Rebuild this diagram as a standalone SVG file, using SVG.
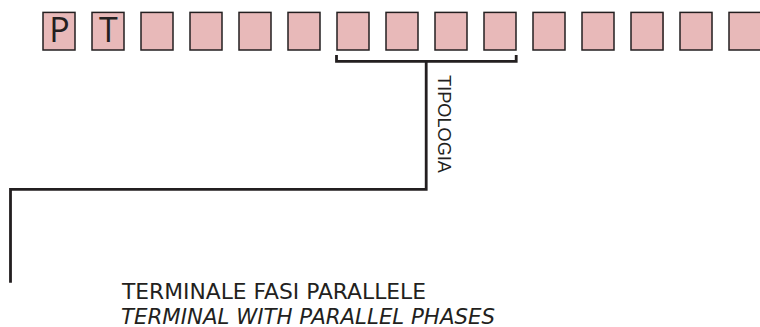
<svg xmlns="http://www.w3.org/2000/svg" width="760" height="327" viewBox="0 0 760 327">
<style>
.box{fill:#e8b9b9;stroke:#231f20;stroke-width:1.5}
.ln{fill:none;stroke:#231f20;stroke-width:2.8;stroke-linecap:butt;stroke-linejoin:miter}
.big{font-family:"Open Sans",sans-serif;font-size:34px;fill:#231f20;text-anchor:middle}
.lbl{font-family:"DejaVu Sans",Verdana,sans-serif;font-size:21px;fill:#231f20}
.rot{font-family:"Liberation Sans",Arial,sans-serif;font-size:18px;fill:#231f20}
</style>
<g id="cells">
<g id="cell1"><rect class="box" x="43" y="12.4" width="32" height="37.6"/><text class="big" x="59.5" y="41.8">P</text></g>
<g id="cell2"><rect class="box" x="92" y="12.4" width="32" height="37.6"/><text class="big" x="108.3" y="41.8">T</text></g>
<g id="cell3"><rect class="box" x="141" y="12.4" width="32" height="37.6"/></g>
<g id="cell4"><rect class="box" x="190" y="12.4" width="32" height="37.6"/></g>
<g id="cell5"><rect class="box" x="239" y="12.4" width="32" height="37.6"/></g>
<g id="cell6"><rect class="box" x="288" y="12.4" width="32" height="37.6"/></g>
<g id="cell7"><rect class="box" x="337" y="12.4" width="32" height="37.6"/></g>
<g id="cell8"><rect class="box" x="386" y="12.4" width="32" height="37.6"/></g>
<g id="cell9"><rect class="box" x="435" y="12.4" width="32" height="37.6"/></g>
<g id="cell10"><rect class="box" x="484" y="12.4" width="32" height="37.6"/></g>
<g id="cell11"><rect class="box" x="533" y="12.4" width="32" height="37.6"/></g>
<g id="cell12"><rect class="box" x="582" y="12.4" width="32" height="37.6"/></g>
<g id="cell13"><rect x="631" y="12.4" width="33" height="37.6" fill="#e8b9b9"/><rect class="box" x="631" y="12.4" width="32" height="37.6" style="fill:none"/></g>
<g id="cell14"><rect x="680" y="12.4" width="32.3" height="37.6" fill="#e8b9b9"/><rect class="box" x="680" y="12.4" width="32" height="37.6" style="fill:none"/></g>
<g id="cell15"><rect class="box" x="729" y="12.4" width="32" height="37.6"/></g>
</g>
<g id="connectors">
<path class="ln" d="M336.5 55 V61.3 H516.2 V55"/>
<path class="ln" d="M426.2 61.3 V189.4 H10.5 V282.7"/>
</g>
<g id="label-tipologia">
<text class="rot" transform="translate(437.5,75) rotate(90)" textLength="98" lengthAdjust="spacingAndGlyphs">TIPOLOGIA</text>
</g>
<g id="label-terminal">
<text class="lbl" x="122" y="299" textLength="304" lengthAdjust="spacingAndGlyphs">TERMINALE FASI PARALLELE</text>
<text class="lbl" x="121" y="323.5" font-style="italic" textLength="374" lengthAdjust="spacingAndGlyphs">TERMINAL WITH PARALLEL PHASES</text>
</g>
</svg>
